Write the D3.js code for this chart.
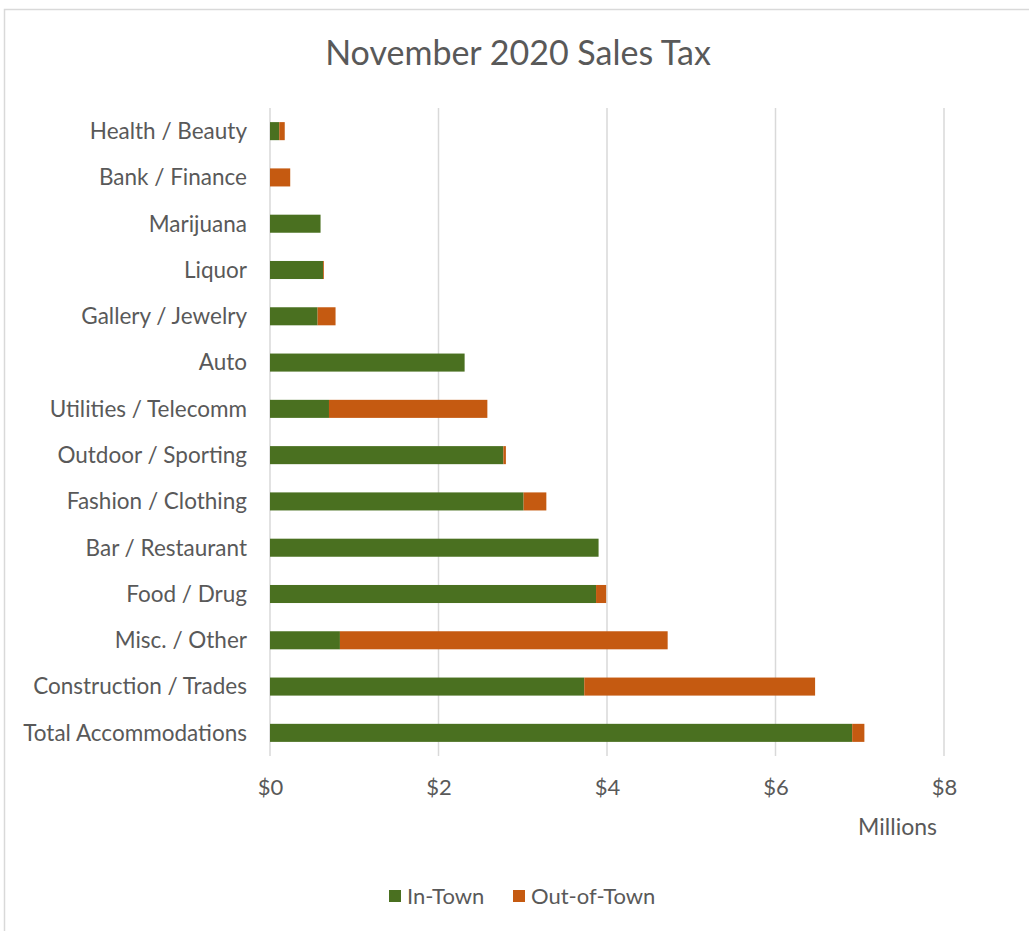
<!DOCTYPE html>
<html>
<head>
<meta charset="utf-8">
<script src="https://cdn.jsdelivr.net/npm/d3@7"></script>
<style>
  html, body { margin: 0; padding: 0; background: #fff; }
  svg { display: block; }
  text { font-family: Lato, "Open Sans", sans-serif; fill: #595959; }
</style>
</head>
<body>
<svg id="chart" width="1029" height="931"></svg>
<script>
const categories = ["Health / Beauty", "Bank / Finance", "Marijuana", "Liquor", "Gallery / Jewelry", "Auto",
  "Utilities / Telecomm", "Outdoor / Sporting", "Fashion / Clothing", "Bar / Restaurant", "Food / Drug",
  "Misc. / Other", "Construction / Trades", "Total Accommodations"];
const inTown =    [0.11, 0.00, 0.60, 0.63, 0.565, 2.31, 0.70, 2.77, 3.01, 3.90, 3.87, 0.83, 3.73, 6.91];
const outOfTown = [0.065, 0.24, 0.00, 0.01, 0.213, 0.00, 1.88, 0.03, 0.27, 0.00, 0.12, 3.89, 2.74, 0.145];
const seriesNames = ["In-Town", "Out-of-Town"];
const seriesColors = ["#4a7020", "#c55a11"];
const xTicks = [0, 2, 4, 6, 8];
const title = "November 2020 Sales Tax";
const unitLabel = "Millions";

const svg = d3.select("#chart");

// chart border
svg.append("rect").attr("x", 4.5).attr("y", 9.5).attr("width", 1100).attr("height", 1000)
  .attr("fill", "none").attr("stroke", "#d9d9d9").attr("stroke-width", 1.5);

const plot = { left: 270, right: 944, top: 108, bottom: 756 };

const x = d3.scaleLinear().domain([0, 8]).range([plot.left, plot.right]);
const y = d3.scaleBand().domain(categories).range([plot.top, plot.bottom]).paddingInner(0.61).paddingOuter(0.305);

// gridlines
svg.append("g").selectAll("line").data(xTicks).join("line")
  .attr("x1", d => x(d)).attr("x2", d => x(d))
  .attr("y1", plot.top).attr("y2", plot.bottom)
  .attr("stroke", "#d9d9d9").attr("stroke-width", 1.5);

// stacked data
const rows = categories.map((c, i) => ({ cat: c, "In-Town": inTown[i], "Out-of-Town": outOfTown[i] }));
const stack = d3.stack().keys(seriesNames)(rows);

svg.append("g").selectAll("g").data(stack).join("g")
  .attr("fill", (d, i) => seriesColors[i])
  .selectAll("rect").data(d => d.filter(s => s[1] - s[0] > 0)).join("rect")
  .attr("x", d => x(d[0]))
  .attr("width", d => x(d[1]) - x(d[0]))
  .attr("y", d => y(d.data.cat))
  .attr("height", y.bandwidth());

// category labels
svg.append("g").selectAll("text").data(categories).join("text")
  .attr("x", 247).attr("y", d => y(d) + y.bandwidth() / 2)
  .attr("dy", "0.35em").attr("text-anchor", "end")
  .style("font-size", "22.5px").text(d => d);

// x axis tick labels
const xAxis = d3.axisBottom(x).tickValues(xTicks).tickSize(0).tickPadding(0).tickFormat(d => "$" + d);
const gx = svg.append("g").attr("transform", `translate(0, ${plot.bottom})`).call(xAxis);
gx.select(".domain").remove();
gx.selectAll("text").attr("y", 39).attr("dy", 0).style("font-size", "22px")
  .style("font-family", "Lato, sans-serif").attr("fill", "#595959");

// unit label
svg.append("text").attr("x", 937).attr("y", 835).attr("text-anchor", "end")
  .style("font-size", "23px").text(unitLabel);

// title
svg.append("text").attr("x", 518).attr("y", 65).attr("text-anchor", "middle")
  .style("font-size", "34px").text(title);

// legend
const legendItems = [{ name: seriesNames[0], x: 389, color: seriesColors[0] }, { name: seriesNames[1], x: 513, color: seriesColors[1] }];
const lg = svg.append("g").selectAll("g").data(legendItems).join("g")
  .attr("transform", d => `translate(${d.x}, 890)`);
lg.append("rect").attr("width", 12).attr("height", 12).attr("fill", d => d.color);
lg.append("text").attr("x", 18).attr("y", 6).attr("dy", "0.35em").style("font-size", "22px").text(d => d.name);
</script>
</body>
</html>
